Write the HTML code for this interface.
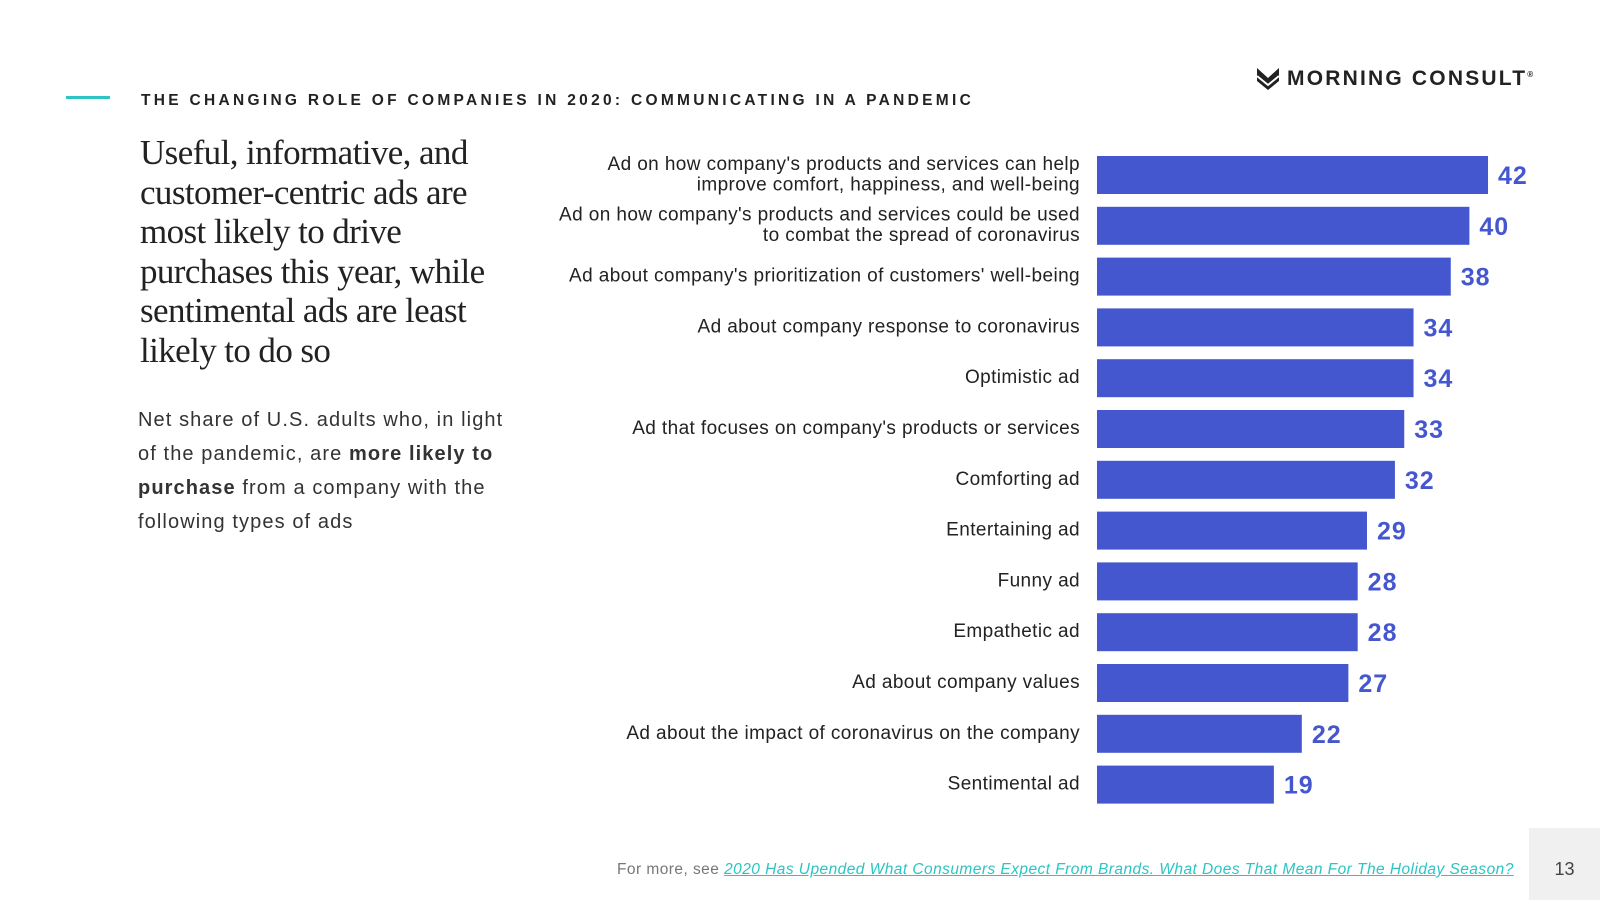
<!DOCTYPE html>
<html><head><meta charset="utf-8"><style>
body{margin:0;width:1600px;height:900px;background:#fff;position:relative;overflow:hidden;font-family:"Liberation Sans",sans-serif;color:#222}
.abs{position:absolute}
</style></head><body>
<div class="abs" style="left:66px;top:96px;width:44px;height:3px;background:#2cc4c4"></div>
<div class="abs" style="left:141px;top:92px;font-size:15.5px;letter-spacing:3.3px;font-weight:bold;color:#222">THE CHANGING ROLE OF COMPANIES IN 2020: COMMUNICATING IN A PANDEMIC</div>
<div class="abs" style="left:1257px;top:67px;display:flex;align-items:center">
<svg width="22" height="22" viewBox="0 0 22 22"><path d="M0 0L11 10L22 0V13L11 22L0 13Z" fill="#222"/><path d="M0 8L11 17L22 8" stroke="#fff" stroke-width="2" fill="none"/></svg>
<span style="margin-left:8px;font-weight:900;font-size:21px;letter-spacing:2.2px;color:#222">MORNING CONSULT<sup style="font-size:8px">®</sup></span></div>
<div class="abs" style="left:140px;top:133px;width:380px;font-family:'Liberation Serif',serif;font-size:35px;letter-spacing:-0.6px;line-height:39.5px;color:#222">Useful, informative, and customer-centric ads are most likely to drive purchases this year, while sentimental ads are least likely to do so</div>
<div class="abs" style="left:138px;top:403px;white-space:nowrap;font-size:20px;letter-spacing:1.1px;line-height:34px;color:#333">Net share of U.S. adults who, in light<br>of the pandemic, are <b>more likely to</b><br><b>purchase</b> from a company with the<br>following types of ads</div>
<svg class="abs" id="chart" style="left:0;top:0" width="1600" height="900"></svg>
<div class="abs" style="left:617px;top:861px;font-size:15.5px;letter-spacing:0.45px;color:#777">For more, see <a style="color:#2cc4c4;font-style:italic;text-decoration:underline">2020 Has Upended What Consumers Expect From Brands. What Does That Mean For The Holiday Season?</a></div>
<div class="abs" style="left:1529px;top:828px;width:71px;height:72px;background:#f0f0f0;font-size:18px;color:#444;text-align:center;line-height:82px">13</div>
<script>
const categories=["Ad on how company's products and services can help|improve comfort, happiness, and well-being","Ad on how company's products and services could be used|to combat the spread of coronavirus","Ad about company's prioritization of customers' well-being","Ad about company response to coronavirus","Optimistic ad","Ad that focuses on company's products or services","Comforting ad","Entertaining ad","Funny ad","Empathetic ad","Ad about company values","Ad about the impact of coronavirus on the company","Sentimental ad"];
const values=[42,40,38,34,34,33,32,29,28,28,27,22,19];
const svg=document.getElementById('chart');
const NS='http://www.w3.org/2000/svg';
const x0=1097,scale=9.31,y0=175,step=50.8,bh=38;
const xs=v=>v*scale;
const ys=i=>y0+i*step;
categories.forEach((c,i)=>{
 const cy=ys(i);
 const r=document.createElementNS(NS,'rect');
 r.setAttribute('x',x0);r.setAttribute('y',cy-bh/2);r.setAttribute('width',xs(values[i]));r.setAttribute('height',bh);r.setAttribute('fill','#4557cf');
 
 
 svg.appendChild(r);
 const t=document.createElementNS(NS,'text');
 t.setAttribute('x',x0+xs(values[i])+10);t.setAttribute('y',cy+9);t.setAttribute('fill','#4557cf');t.setAttribute('font-size','25');t.setAttribute('font-weight','bold');t.setAttribute('font-family','Liberation Sans, sans-serif');t.setAttribute('letter-spacing','1');
 t.textContent=values[i];
 
 
 svg.appendChild(t);
 const lines=c.split('|');
 const l=document.createElementNS(NS,'text');
 l.setAttribute('text-anchor','end');l.setAttribute('font-size','19');l.setAttribute('letter-spacing','0.4');l.setAttribute('fill','#222');l.setAttribute('font-family','Liberation Sans, sans-serif');
 
 
 lines.forEach((s,k)=>{const ts=document.createElementNS(NS,'tspan');ts.setAttribute('x',1080);ts.setAttribute('y',cy+5+(k-(lines.length-1)/2)*20.5);ts.textContent=s;l.appendChild(ts);});
 svg.appendChild(l);
});
</script>
</body></html>
